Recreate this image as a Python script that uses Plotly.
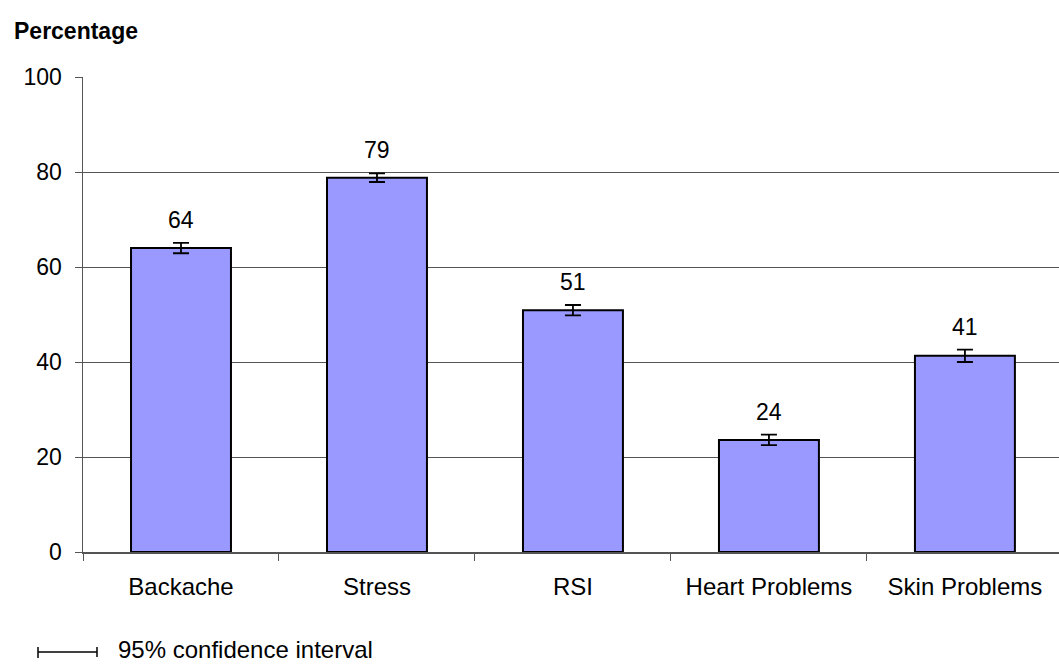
import plotly.graph_objects as go

categories = ["Backache", "Stress", "RSI", "Heart Problems", "Skin Problems"]
values = [64.0, 78.8, 50.9, 23.6, 41.3]
ci95 = [1.1, 0.9, 1.1, 1.1, 1.3]
y_ticks = [0, 20, 40, 60, 80, 100]

FONT = "Liberation Sans, Arial, sans-serif"
W, H = 1059, 666
ML, MR, MT, MB = 83, 0, 77, 114
PW = W - ML - MR
PH = H - MT - MB

def px_x(p):
    return (p - ML) / PW

def px_y(p):
    return (H - MB - p) / PH

fig = go.Figure()
fig.add_trace(go.Bar(
    x=categories, y=values, width=0.51,
    marker=dict(color="#9999FF", line=dict(color="#000000", width=2)),
    error_y=dict(type="data", array=ci95, visible=True, color="#000000",
                 thickness=1.8, width=8),
    hoverinfo="skip",
))

annotations = []
for c, v, e in zip(categories, values, ci95):
    annotations.append(dict(
        x=c, y=v + e, xref="x", yref="y", text=str(int(round(v))),
        showarrow=False, yanchor="bottom", yshift=8,
        font=dict(family=FONT, size=23, color="#000000"),
    ))

annotations.append(dict(
    x=px_x(12), y=px_y(31), xref="paper", yref="paper", text="<b>Percentage</b>",
    showarrow=False, xanchor="left", yanchor="middle",
    font=dict(family=FONT, size=23, color="#000000"),
))
annotations.append(dict(
    x=px_x(116), y=px_y(649), xref="paper", yref="paper",
    text="95% confidence interval",
    showarrow=False, xanchor="left", yanchor="middle",
    font=dict(family=FONT, size=24, color="#000000"),
))

shapes = [
    dict(type="line", xref="paper", yref="paper", x0=px_x(38), x1=px_x(97),
         y0=px_y(652), y1=px_y(652), line=dict(color="#000000", width=1.5)),
    dict(type="line", xref="paper", yref="paper", x0=px_x(38), x1=px_x(38),
         y0=px_y(647), y1=px_y(658), line=dict(color="#000000", width=1.5)),
    dict(type="line", xref="paper", yref="paper", x0=px_x(97), x1=px_x(97),
         y0=px_y(647), y1=px_y(657), line=dict(color="#000000", width=1.5)),
]

fig.update_layout(
    width=W, height=H,
    margin=dict(l=ML, r=MR, t=MT, b=MB, pad=0),
    paper_bgcolor="#ffffff", plot_bgcolor="#ffffff",
    showlegend=False,
    annotations=annotations,
    shapes=shapes,
    font=dict(family=FONT, color="#000000"),
)
fig.update_xaxes(
    range=[-0.5, 4.48], showgrid=False, showline=True, linecolor="#555555", linewidth=1.5,
    ticks="outside", tickson="boundaries", ticklen=7, tickcolor="#555555",
    tickfont=dict(family=FONT, size=24, color="#000000"), ticklabelstandoff=13,
)
fig.update_yaxes(
    range=[0, 100], tickvals=y_ticks, showgrid=True, gridcolor="#555555", gridwidth=1,
    showline=True, linecolor="#555555", linewidth=1.5, zeroline=False,
    ticks="outside", ticklen=7, tickcolor="#555555",
    tickfont=dict(family=FONT, size=23, color="#000000"), ticklabelstandoff=8,
)

fig.write_html(
    "out.html",
    config={"displayModeBar": False, "staticPlot": True},
    post_script="document.body.style.margin='0';document.body.style.overflow='hidden';",
)
